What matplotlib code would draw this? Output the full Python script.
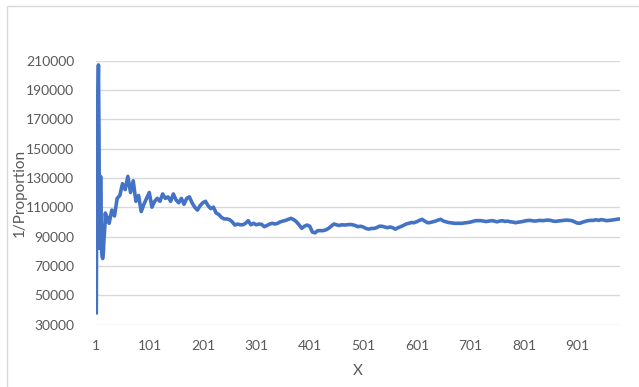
import matplotlib.pyplot as plt
from matplotlib.patches import Rectangle

# sample index (category number) and 1/proportion
x_index = list(range(1, 21)) + list(range(25, 981, 5))

inv_prop = [
    38000, 150000, 120000, 185000, 207000, 160000, 82000, 95000, 131000, 105000,
    80000, 76000, 75000, 78000, 86000, 92000, 97000, 106000, 100000, 104000,
    # 25 .. 980 every 5
    99000, 108000, 104000, 116000, 118000, 126000, 122000, 131000, 120000, 128000,
    114000, 118000, 107000, 112000, 116000, 120000, 110000, 114000, 116000, 114000,
    119000, 116000, 117000, 114000, 119000, 115000, 113000, 116000, 112000, 116000,
    117000, 113000, 110000, 108000, 111000, 113000, 114000, 111000, 109000, 110000,
    106000, 105000, 103000, 102000, 102000, 101500, 100000, 97800, 98500, 98000,
    98000, 99000, 100800, 98000, 99000, 98000, 98500, 98300, 96700, 97500,
    98500, 99000, 98500, 99000, 100000, 100500, 101000, 101700, 102400, 101500,
    100100, 98000, 95600, 97000, 97800, 97000, 93000, 92500, 94000, 94000,
    94000, 94500, 95500, 97000, 98500, 98000, 97500, 98000, 97800, 98000,
    98200, 98000, 97500, 96700, 97000, 96500, 95500, 95000, 95500, 95500,
    96000, 97000, 97000, 96500, 96000, 96500, 96000, 95000, 96000, 96700,
    97500, 98500, 99000, 99500, 99400, 100100, 101000, 101700, 100500, 99400,
    99500, 100000, 100500, 101200, 101700, 100500, 100000, 99500, 99300, 99000,
    99000, 99000, 99000, 99300, 99500, 99800, 100300, 100800, 100800, 100800,
    100500, 100200, 100500, 100800, 100500, 100000, 100500, 100800, 100300, 100500,
    100000, 99800, 99400, 99800, 100000, 100400, 100800, 101000, 100800, 100500,
    100700, 101000, 100800, 101000, 101200, 101000, 100500, 100300, 100600, 100800,
    101000, 101200, 101000, 100800, 100000, 99200, 99000, 99800, 100300, 100800,
    101000, 101000, 101400, 101000, 101500, 101200, 100800, 101000, 101200, 101500,
    101800, 102000,
]

y_ticks = list(range(30000, 210001, 20000))
x_ticks = list(range(1, 902, 100))

text_col = '#595959'
font = 'Lato'

fig = plt.figure(figsize=(6.39, 3.87), dpi=100)
# chart border
fig.patches.append(Rectangle((6.5 / 639, -0.1), 1.2, 1 - 6.5 / 387 + 0.1,
                             transform=fig.transFigure, fill=False,
                             edgecolor='#D9D9D9', linewidth=1))

ax = fig.add_axes([96.3 / 639, (387 - 324.5) / 387, (620 - 96.3) / 639, 264 / 387])
ax.plot(x_index, inv_prop, color='#4472C4', linewidth=2.6, solid_joinstyle='round')

ax.set_xlim(1, 980)
ax.set_ylim(30000, 210000)
ax.set_yticks(y_ticks)
ax.set_xticks(x_ticks)
ax.set_xticklabels([str(t) for t in x_ticks])
ax.grid(axis='y', color='#D9D9D9', linewidth=1)
ax.set_axisbelow(True)
for s in ax.spines.values():
    s.set_visible(False)
ax.tick_params(length=0, labelcolor=text_col, labelsize=10)
ax.tick_params(axis='y', pad=16)
ax.tick_params(axis='x', pad=11)
for lab in ax.get_xticklabels() + ax.get_yticklabels():
    lab.set_family(font)

ax.set_xlabel('X', color=text_col, fontsize=11, family=font, labelpad=9)
ax.set_ylabel('1/Proportion', color=text_col, fontsize=11, family=font)
ax.yaxis.set_label_coords(-0.132, 0.5)

fig.savefig('out.png', dpi=100)
